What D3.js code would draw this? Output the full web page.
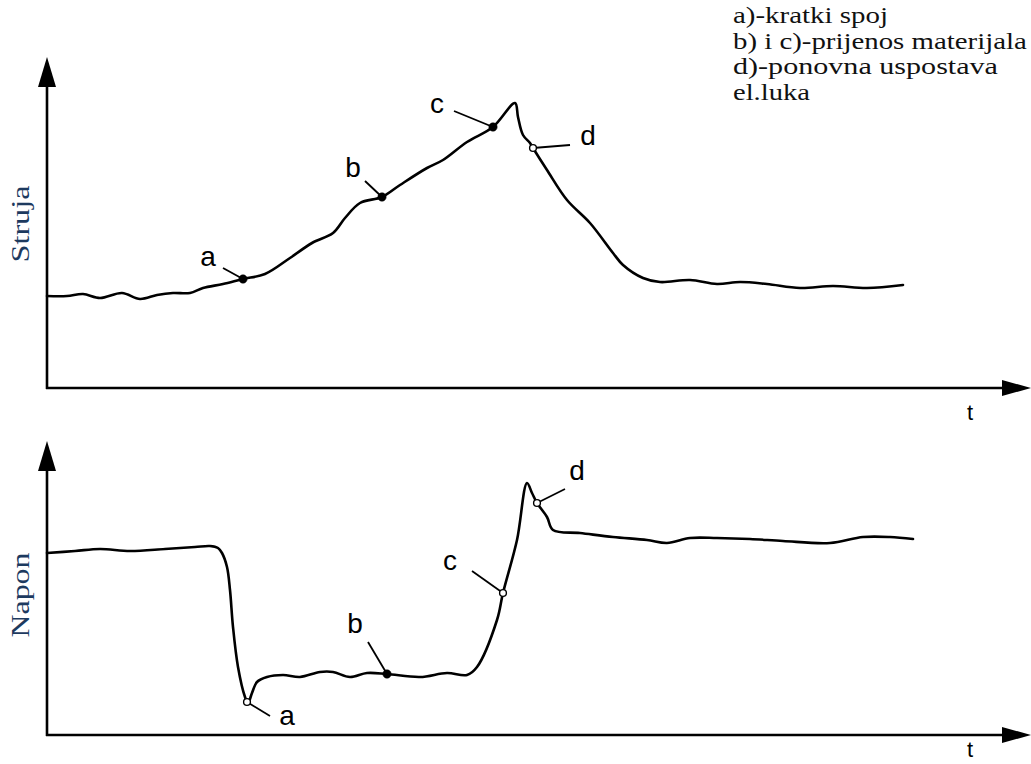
<!DOCTYPE html>
<html>
<head>
<meta charset="utf-8">
<script src="https://cdn.jsdelivr.net/npm/d3@7"></script>
<style>
  html, body { margin: 0; padding: 0; background: #fff; }
  svg { display: block; }
</style>
</head>
<body>
<svg id="chart" width="1031" height="764"></svg>
<script>
// ---------------- DATA ----------------
// Upper panel: current (Struja) vs time
const topTime = [0, 20, 36, 53, 75, 93, 110, 126, 143, 156, 176, 196, 218, 243, 265, 286, 298, 313, 335, 353, 380, 396, 420, 446, 468, 471, 476, 483, 486, 500, 520, 543, 566, 576, 596, 613, 643, 670, 693, 720, 753, 786, 820, 856];
const topCurrent = [92, 92, 94, 90, 95, 89, 93, 95, 95, 100, 104, 109, 114, 130, 145, 155, 170, 185, 191, 203, 220, 228, 246, 261, 285, 271, 253, 245, 240, 218, 188, 165, 135, 123, 110, 106, 108, 104, 106, 104, 100, 102, 100, 103];

// Lower panel: voltage (Napon) vs time
const botTime = [0, 28, 53, 83, 118, 148, 163, 171, 175, 180, 183, 186, 191, 198, 201, 205, 210, 220, 236, 253, 273, 286, 303, 320, 340, 373, 400, 420, 430, 450, 456, 470, 480, 485, 490, 500, 506, 533, 566, 600, 620, 643, 670, 703, 736, 783, 816, 843, 866];
const botVoltage = [182, 184, 186, 184, 186, 188, 189, 187, 182, 168, 145, 108, 68, 38, 32, 42, 53, 58, 60, 58, 63, 63, 58, 62, 61, 58, 62, 60, 68, 115, 142, 195, 252, 242, 232, 218, 205, 202, 198, 195, 192, 197, 197, 196, 194, 192, 198, 198, 196];

// Annotation letters
const markLabels = ["a", "b", "c", "d"];
const topMarkT = [196, 335, 446, 486];
const topMarkV = [109, 191, 261, 240];
const topMarkFilled = [true, true, true, false];
const topLabelT = [161, 306, 390, 541];
const topLabelV = [132, 221, 285, 253];
const topLeadT = [176, 318, 407, 523];
const topLeadV = [120, 207, 277, 243];

const botMarkT = [200, 340, 456, 490];
const botMarkV = [33, 61, 142, 232];
const botMarkFilled = [false, true, false, false];
const botLabelT = [240, 308, 403, 530];
const botLabelV = [20, 112, 175, 265];
const botLeadT = [223, 321, 425, 518];
const botLeadV = [19, 93, 164, 246];

const legendLines = ["a)-kratki spoj", "b) i c)-prijenos materijala", "d)-ponovna uspostava", "el.luka"];
const yLabels = ["Struja", "Napon"];
const xLabel = "t";

// ---------------- DRAWING ----------------
const svg = d3.select("#chart");

const x = d3.scaleLinear().domain([0, 984]).range([47, 1031]);
const yTop = d3.scaleLinear().domain([0, 331]).range([388, 57]);
const yBot = d3.scaleLinear().domain([0, 294]).range([735, 441]);

function fitText(sel, target) {
  const w = sel.node().getComputedTextLength();
  return w > 0 ? target / w : 1;
}

function drawPanel(yS, times, vals, mT, mV, mF, lT, lV, eT, eV, yLabel, labelY, labelLen, tLabelY) {
  const g = svg.append("g");
  const x0 = x.range()[0], x1 = x.range()[1];
  const y0 = yS.range()[0], y1 = yS.range()[1];
  g.append("line").attr("x1", x0).attr("x2", x0).attr("y1", y0 + 1).attr("y2", y1 + 20)
    .attr("stroke", "#000").attr("stroke-width", 2.6);
  g.append("line").attr("x1", x0 - 1).attr("x2", x1 - 20).attr("y1", y0).attr("y2", y0)
    .attr("stroke", "#000").attr("stroke-width", 2.6);
  g.append("path").attr("d", `M${x0},${y1} L${x0 - 9},${y1 + 30} L${x0 + 9},${y1 + 30} Z`).attr("fill", "#000");
  g.append("path").attr("d", `M${x1},${y0} L${x1 - 29},${y0 - 8} L${x1 - 29},${y0 + 8} Z`).attr("fill", "#000");

  const pts = times.map((t, i) => [t, vals[i]]);
  const line = d3.line().x(d => x(d[0])).y(d => yS(d[1])).curve(d3.curveCatmullRom.alpha(0.5));
  g.append("path").datum(pts).attr("d", line).attr("fill", "none")
    .attr("stroke", "#000").attr("stroke-width", 2.6).attr("stroke-linejoin", "round").attr("stroke-linecap", "round");

  markLabels.forEach((lab, i) => {
    g.append("line").attr("x1", x(mT[i])).attr("y1", yS(mV[i])).attr("x2", x(eT[i])).attr("y2", yS(eV[i]))
      .attr("stroke", "#000").attr("stroke-width", 1.8);
    g.append("circle").attr("cx", x(mT[i])).attr("cy", yS(mV[i])).attr("r", mF[i] ? 4.2 : 3.4)
      .attr("fill", mF[i] ? "#000" : "#fff").attr("stroke", "#000").attr("stroke-width", mF[i] ? 0.5 : 1.4);
    g.append("text").attr("x", x(lT[i])).attr("y", yS(lV[i]))
      .attr("text-anchor", "middle").attr("dominant-baseline", "central")
      .attr("font-family", "'Liberation Sans', Arial, sans-serif").attr("font-size", 28)
      .attr("fill", "#000").text(lab);
  });

  const yl = g.append("text")
    .attr("text-anchor", "middle")
    .attr("font-family", "'Liberation Serif', 'Times New Roman', serif").attr("font-size", 25)
    .attr("fill", "#1d3a5f")
    .text(yLabel);
  const k = fitText(yl, labelLen);
  yl.attr("transform", `translate(29,${labelY}) rotate(-90) scale(${k},1)`);

  g.append("text").attr("x", 970).attr("y", tLabelY).attr("text-anchor", "middle")
    .attr("dominant-baseline", "central")
    .attr("font-family", "'Liberation Sans Narrow', 'Liberation Sans', Arial, sans-serif").attr("font-size", 22)
    .attr("fill", "#000").text(xLabel);
}

drawPanel(yTop, topTime, topCurrent, topMarkT, topMarkV, topMarkFilled, topLabelT, topLabelV, topLeadT, topLeadV,
  yLabels[0], 224, 77, 412);
drawPanel(yBot, botTime, botVoltage, botMarkT, botMarkV, botMarkFilled, botLabelT, botLabelV, botLeadT, botLeadV,
  yLabels[1], 595, 85, 749);

// legend
const legendLens = [155, 294, 265, 77];
const leg = svg.append("g");
legendLines.forEach((s, i) => {
  const t = leg.append("text")
    .attr("font-family", "'Liberation Serif', 'Times New Roman', serif").attr("font-size", 24)
    .attr("fill", "#111")
    .text(s);
  const k = fitText(t, legendLens[i]);
  t.attr("transform", `translate(733,${23 + i * 25.5}) scale(${k},1)`);
});
</script>
</body>
</html>
